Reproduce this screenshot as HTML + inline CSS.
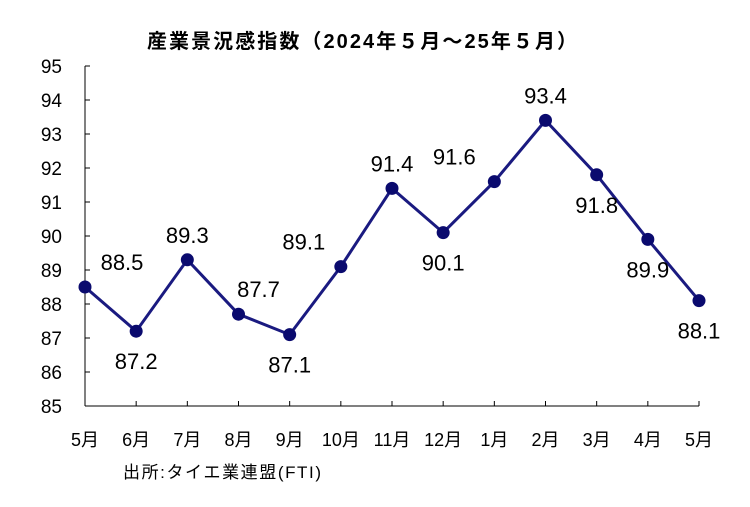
<!DOCTYPE html>
<html><head><meta charset="utf-8"><style>
html,body{margin:0;padding:0;background:#fff;}
svg{display:block;font-family:"Liberation Sans","Noto Sans CJK JP",sans-serif;}
</style></head><body>
<svg id="c" width="750" height="507" viewBox="0 0 750 507">
<text x="362" y="48" font-size="20" text-anchor="middle" font-weight="bold" fill="#000" textLength="430">産業景況感指数（2024年５月～25年５月）</text>
<g id="axes"></g><g id="marks"></g>
<text x="123" y="478" font-size="17" fill="#000" textLength="198">出所:タイエ業連盟(FTI)</text>
</svg>
<script>
const categories=["5月","6月","7月","8月","9月","10月","11月","12月","1月","2月","3月","4月","5月"];
const values=[88.5,87.2,89.3,87.7,87.1,89.1,91.4,90.1,91.6,93.4,91.8,89.9,88.1];
const yTicks=[85,86,87,88,89,90,91,92,93,94,95];
const labelAbove=[true,false,true,true,false,true,true,false,true,true,false,false,false];
const labelDx=[37,0,0,20,0,-37,0,0,-40,0,0,0,0];
const NS="http://www.w3.org/2000/svg";
const x0=85,x1=699,yB=406,yT=66;
const xs=i=>x0+(x1-x0)*i/(categories.length-1);
const ys=v=>yB-(v-85)/(95-85)*(yB-yT);
function mk(t,a,p){const e=document.createElementNS(NS,t);for(const k in a)e.setAttribute(k,a[k]);p.appendChild(e);return e;}
const ax=document.getElementById('axes'),mg=document.getElementById('marks');
let e=mk('line',{x1:x0,y1:yT,x2:x0,y2:yB,stroke:'#000','stroke-width':1},ax);

e=mk('line',{x1:x0,y1:yB,x2:x1,y2:yB,stroke:'#000','stroke-width':1},ax);

yTicks.forEach(v=>{
 mk('line',{x1:x0,y1:ys(v),x2:x0+5,y2:ys(v),stroke:'#000'},ax);
 const t=mk('text',{x:62,y:ys(v)+7,'font-size':19,'text-anchor':'end',fill:'#000'},ax);t.textContent=v;
 
 
});
categories.forEach((c,i)=>{
 if(i>0)mk('line',{x1:xs(i),y1:yB,x2:xs(i),y2:yB-5,stroke:'#000'},ax);
 const t=mk('text',{x:xs(i),y:446,'font-size':18,'text-anchor':'middle',fill:'#000'},ax);t.textContent=c;
 
 
});
const pts=values.map((v,i)=>xs(i)+','+ys(v)).join(' ');
e=mk('polyline',{points:pts,fill:'none',stroke:'#1a1a80','stroke-width':3},mg);

values.forEach((v,i)=>{
 const p=mk('circle',{cx:xs(i),cy:ys(v),r:6.5,fill:'#0a0a6e'},mg);
 
 
 const t=mk('text',{x:xs(i)+labelDx[i],y:ys(v)+(labelAbove[i]?-17:38),'font-size':22,'text-anchor':'middle',fill:'#000'},mg);
 t.textContent=v.toFixed(1);
 
 
});
</script>
</body></html>
